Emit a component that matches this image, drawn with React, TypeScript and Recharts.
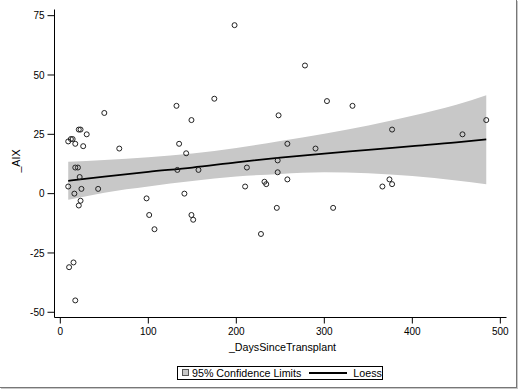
import React from 'react';
import { ComposedChart, Area, Line, Scatter, XAxis, YAxis, Legend, Label } from 'recharts';

// Observed points: days since transplant vs AIX
const pointDays = [198, 175, 50, 132, 149, 21, 23, 30, 12, 14, 9, 17, 26, 67, 135, 143, 17, 20, 133, 157, 212, 22, 9, 24, 43, 210, 16, 141, 98, 23, 21, 101, 149, 151, 107, 228, 15, 10, 17, 278, 303, 332, 248, 377, 484, 457, 258, 290, 247, 247, 258, 232, 234, 374, 377, 366, 246, 310];
const pointAix = [71, 40, 34, 37, 31, 27, 27, 25, 23, 23, 22, 21, 20, 19, 21, 17, 11, 11, 10, 10, 11, 7, 3, 2, 2, 3, 0, 0, -2, -3, -5, -9, -9, -11, -15, -17, -29, -31, -45, 54, 39, 37, 33, 27, 31, 25, 21, 19, 14, 9, 6, 5, 4, 6, 4, 3, -6, -6];

// Loess fit with 95% confidence limits
const fitDays = [9, 50, 100, 150, 200, 250, 300, 350, 400, 450, 484];
const loessFit = [5.4, 7.2, 9.2, 11.0, 13.2, 15.2, 16.9, 18.4, 20.0, 21.6, 22.9];
const upperCL = [13.4, 14.2, 15.3, 16.9, 19.2, 22.2, 25.2, 28.7, 32.8, 37.5, 41.5];
const lowerCL = [-2.6, 0.4, 3.0, 5.3, 7.2, 8.3, 9.0, 8.6, 7.4, 5.5, 4.0];

const xTicks = [0, 100, 200, 300, 400, 500];
const yTicks = [-50, -25, 0, 25, 50, 75];

const fitData = fitDays.map((x, i) => ({ x, band: [lowerCL[i], upperCL[i]], loess: loessFit[i] }));
const scatterData = pointDays.map((x, i) => ({ x, y: pointAix[i] }));

const FONT = "'Liberation Sans', Arial, sans-serif";
const BAND = '#c8c8c8';

const Circle = (props: any) => {
  const { cx, cy } = props;
  if (cx == null || cy == null) return null;
  return <circle cx={cx} cy={cy} r={2.5} fill="none" stroke="#222" strokeWidth={1} />;
};

const LegendBox = () => (
  <div
    style={{
      width: 206,
      height: 14,
      border: '1px solid #000',
      boxSizing: 'border-box',
      display: 'flex',
      alignItems: 'center',
      fontFamily: FONT,
      fontSize: 10.7,
      color: '#000',
      background: '#fff',
      whiteSpace: 'nowrap',
      lineHeight: '12px',
    }}
  >
    <span style={{ display: 'inline-block', width: 7, height: 7, marginLeft: 4, background: BAND, border: '1px solid #555', boxSizing: 'border-box' }} />
    <span style={{ marginLeft: 3 }}>95% Confidence Limits</span>
    <span style={{ display: 'inline-block', width: 38, height: 2, marginLeft: 8, background: '#000' }} />
    <span style={{ marginLeft: 6 }}>Loess</span>
  </div>
);

export default function App() {
  return (
    <div style={{ position: 'absolute', left: 0, top: 0, width: 521, height: 392, background: '#fff' }}>
      <ComposedChart
        width={521}
        height={392}
        data={fitData}
        margin={{ top: 9.5, right: 14.5, bottom: 12.5, left: 0 }}
      >
        <XAxis
          dataKey="x"
          type="number"
          domain={[-6.6, 507]}
          ticks={xTicks}
          allowDataOverflow
          height={48}
          tickSize={6}
          tickMargin={4}
          axisLine={{ stroke: '#000' }}
          tickLine={{ stroke: '#000' }}
          tick={{ fill: '#000', fontSize: 10, fontFamily: FONT }}
        >
          <Label
            content={(p: any) => {
              const vb = p.viewBox;
              return (
                <text x={vb.x + vb.width / 2 + 2} y={vb.y + 33.5} textAnchor="middle" fontFamily={FONT} fontSize={10.7} fill="#000">
                  _DaysSinceTransplant
                </text>
              );
            }}
          />
        </XAxis>
        <XAxis xAxisId="top" orientation="top" type="number" domain={[-6.6, 507]} height={0} tick={false} tickLine={false} axisLine={{ stroke: '#000' }} />
        <YAxis
          type="number"
          domain={[-52.2, 77.6]}
          ticks={yTicks}
          allowDataOverflow
          width={54.5}
          tickSize={7}
          tickMargin={3}
          axisLine={{ stroke: '#000' }}
          tickLine={{ stroke: '#000' }}
          tick={{ fill: '#000', fontSize: 10, fontFamily: FONT }}
        >
          <Label
            content={(p: any) => {
              const vb = p.viewBox;
              const cx = 19.5;
              const cy = vb.y + vb.height / 2 - 2.5;
              return (
                <text x={cx} y={cy} transform={`rotate(-90, ${cx}, ${cy})`} textAnchor="middle" fontFamily={FONT} fontSize={10.7} fill="#000">
                  _AIX
                </text>
              );
            }}
          />
        </YAxis>
        <YAxis yAxisId="right" orientation="right" type="number" domain={[-52.2, 77.6]} width={0} tick={false} tickLine={false} axisLine={{ stroke: '#000' }} />
        <Area dataKey="band" type="monotone" stroke="none" fill={BAND} fillOpacity={1} isAnimationActive={false} legendType="none" />
        <Line dataKey="loess" type="monotone" stroke="#000" strokeWidth={1.8} dot={false} activeDot={false} isAnimationActive={false} legendType="none" />
        <Scatter data={scatterData} dataKey="y" shape={<Circle />} isAnimationActive={false} legendType="none" />
        <Legend verticalAlign="bottom" content={() => <LegendBox />} wrapperStyle={{ left: 177, width: 206 }} />
      </ComposedChart>
      <div
        style={{
          position: 'absolute',
          left: 0,
          top: 0,
          width: 516,
          height: 387,
          borderRight: '1px solid #777',
          borderBottom: '1px solid #777',
          boxShadow: '1px 1px 0 #c8c8c8',
          pointerEvents: 'none',
        }}
      />
    </div>
  );
}
